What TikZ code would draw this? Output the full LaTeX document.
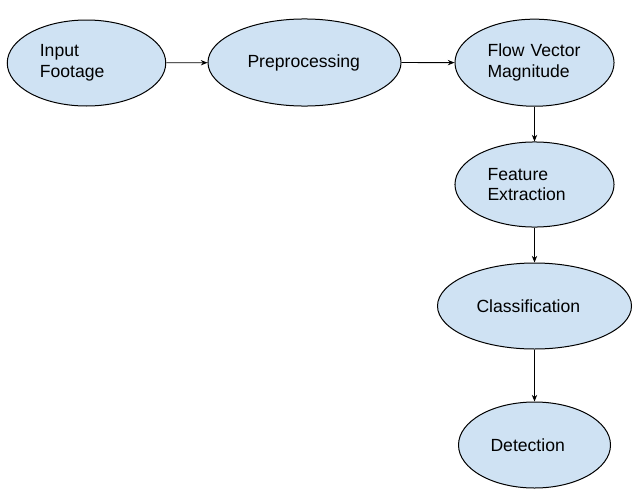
\documentclass[tikz,border=0pt]{standalone}
\usepackage{fontspec}
\setmainfont{Liberation Sans}
\usetikzlibrary{shapes.geometric,arrows.meta}

\tikzset{every picture/.style={line width=0.75pt}}
\definecolor{stagefill}{RGB}{207,226,243}
\tikzset{
  stage/.style={ellipse, draw=black, fill=stagefill, inner sep=0pt, align=left,
    font=\fontsize{13.2}{15.5}\selectfont},
  flow/.style={-{Stealth[length=5pt,width=4pt]}, line width=0.6pt}
}

\begin{document}
\begin{tikzpicture}[x=0.75pt,y=0.75pt,yscale=-1,xscale=1]
\useasboundingbox (0,0) rectangle (638,500);

%Shape: Ellipse [id:inp]
\node [stage, minimum width=118.9pt, minimum height=64.5pt, text width=70pt] (inp) at (86.5,63) {Input\\Footage};
%Shape: Ellipse [id:pre]
\node [stage, minimum width=144.8pt, minimum height=65.3pt, text width=85.5pt] (pre) at (304.5,62.5) {Preprocessing};
%Shape: Ellipse [id:mag]
\node [stage, minimum width=119.3pt, minimum height=65.3pt, text width=70.5pt] (mag) at (534.5,62.7) {Flow Vector\\Magnitude};
%Shape: Ellipse [id:feat]
\node [stage, minimum width=119.3pt, minimum height=63.8pt, text width=70.5pt] (feat) at (534.5,184.5) {Feature\\Extraction};
%Shape: Ellipse [id:cls]
\node [stage, minimum width=145.5pt, minimum height=64.5pt, text width=87pt] (cls) at (534.5,306) {Classification};
%Shape: Ellipse [id:det]
\node [stage, minimum width=114pt, minimum height=64.5pt, text width=66pt] (det) at (534.5,445) {Detection};

%Straight Lines
\draw [flow] (inp) -- (pre);
\draw [flow] (pre) -- (mag);
\draw [flow] (mag.south) -- (feat.north);
\draw [flow] (feat.south) -- (cls.north);
\draw [flow] (cls.south) -- (det.north);

\end{tikzpicture}
\end{document}
